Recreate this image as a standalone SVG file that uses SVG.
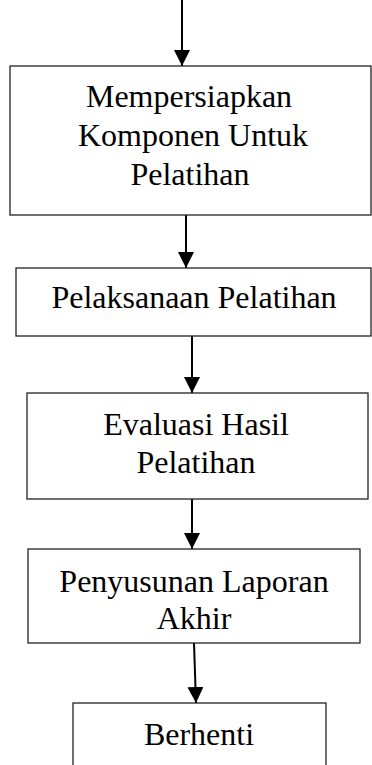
<svg xmlns="http://www.w3.org/2000/svg" width="372" height="765" viewBox="0 0 372 765">
<defs>
<marker id="ah" markerWidth="16" markerHeight="16" viewBox="0 0 16 16" refX="16" refY="8" orient="auto" markerUnits="userSpaceOnUse">
<path d="M0,0 L16,8 L0,16 Z" fill="#000"/>
</marker>
<style>
.box{fill:#fff;stroke:#222;stroke-width:1.3}
.t{font-family:"Liberation Serif","Times New Roman",serif;font-size:32px;fill:#000;text-anchor:middle}
.c{stroke:#000;stroke-width:2;fill:none}
</style>
</defs>
<rect width="372" height="765" fill="#fff"/>
<g id="connectors">
<line class="c" x1="182" y1="0" x2="182" y2="66" marker-end="url(#ah)"/>
<line class="c" x1="186" y1="215" x2="186" y2="268" marker-end="url(#ah)"/>
<line class="c" x1="192" y1="336" x2="192" y2="393" marker-end="url(#ah)"/>
<line class="c" x1="192" y1="499" x2="192" y2="549" marker-end="url(#ah)"/>
<line class="c" x1="194" y1="643" x2="196" y2="703" marker-end="url(#ah)"/>
</g>
<g id="n1">
<rect class="box" x="10" y="66" width="361" height="149"/>
<text class="t" x="189" y="107">Mempersiapkan</text>
<text class="t" x="193" y="146">Komponen Untuk</text>
<text class="t" x="190" y="185">Pelatihan</text>
</g>
<g id="n2">
<rect class="box" x="16" y="268" width="355" height="68"/>
<text class="t" x="194" y="308">Pelaksanaan Pelatihan</text>
</g>
<g id="n3">
<rect class="box" x="27" y="393" width="341" height="106"/>
<text class="t" x="196" y="435">Evaluasi Hasil</text>
<text class="t" x="196" y="473">Pelatihan</text>
</g>
<g id="n4">
<rect class="box" x="28" y="549" width="332" height="94"/>
<text class="t" x="194" y="592">Penyusunan Laporan</text>
<text class="t" x="194" y="629">Akhir</text>
</g>
<g id="n5">
<rect class="box" x="73" y="703" width="253" height="70"/>
<text class="t" x="199" y="745">Berhenti</text>
</g>
</svg>
